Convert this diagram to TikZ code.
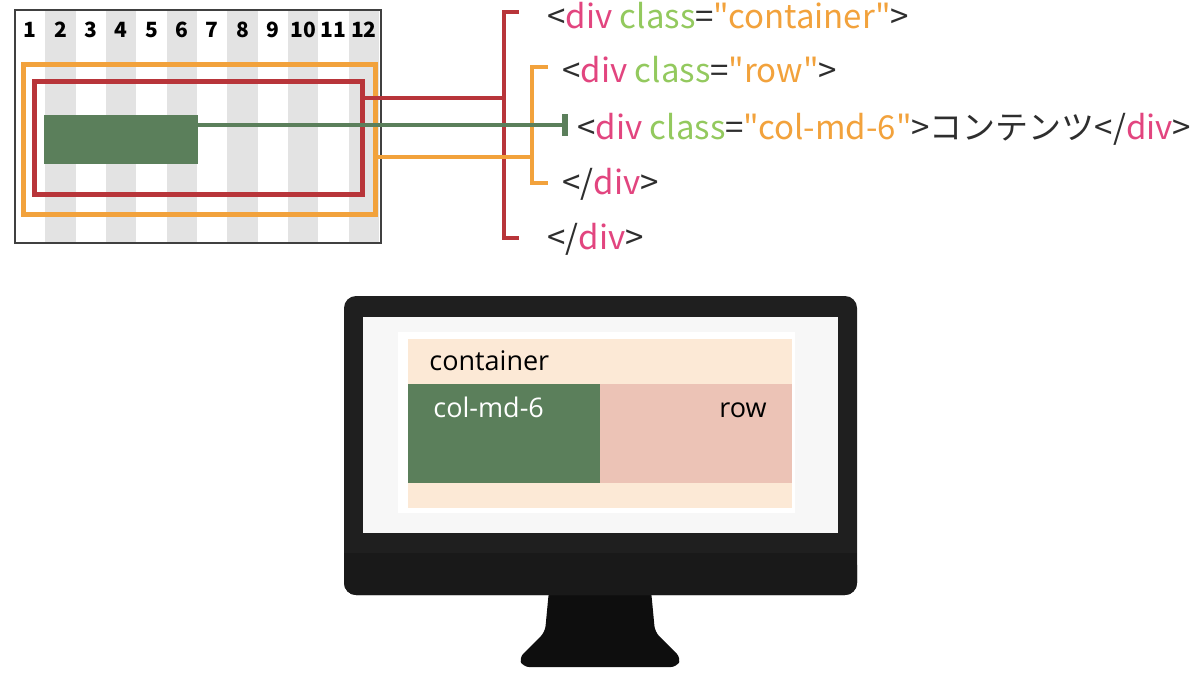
\documentclass[tikz,border=0pt]{standalone}
\usepackage{fontspec}
\usepackage{xcolor}
\usepackage{tikz}
\usetikzlibrary{arrows.meta,positioning,calc}
\newfontfamily\jpfont{Noto Sans CJK JP}
\newfontfamily\shotfont{Open Sans}

\definecolor{redc}{HTML}{B8353A}
\definecolor{orangec}{HTML}{F2A23C}
\definecolor{greenc}{HTML}{5B7F5B}
\definecolor{pinkc}{HTML}{E2457F}
\definecolor{lgreenc}{HTML}{93C95E}
\definecolor{codeblack}{HTML}{2E2E2E}
\definecolor{gridgrey}{HTML}{E3E3E3}
\definecolor{peachc}{HTML}{FCE9D6}
\definecolor{rowpinkc}{HTML}{ECC3B6}
\definecolor{screenc}{HTML}{F7F7F7}
\definecolor{bezelc}{HTML}{1F1F1F}
\definecolor{chinc}{HTML}{191919}
\definecolor{standc}{HTML}{0E0E0E}

\newcommand\tagname[1]{\textcolor{pinkc}{#1}}
\newcommand\attrname[1]{\textcolor{lgreenc}{#1}}
\newcommand\attrval[1]{\textcolor{orangec}{#1}}

\tikzset{
  frame/.style={rectangle, inner sep=0pt},
  code/.style={font=\jpfont\fontsize{16.5}{20}\selectfont, text=codeblack, anchor=base west, inner sep=0pt},
  colnum/.style={font=\jpfont\bfseries\fontsize{10.5}{12}\selectfont, anchor=base, inner sep=0pt},
  shot/.style={font=\shotfont\fontsize{13.5}{16}\selectfont, inner sep=0pt},
  redline/.style={draw=redc, line width=2.2pt},
  orangeline/.style={draw=orangec, line width=2pt},
  greenline/.style={draw=greenc, line width=2pt}
}

\begin{document}
\begin{tikzpicture}[x=0.5pt,y=-0.5pt]
        \useasboundingbox (0,0) rectangle (1200,680);

        % 12 column grid
        \foreach \i in {2,4,...,12} {
            \fill[gridgrey] ({15+30.33*(\i-1)},11) rectangle ({15+30.33*\i},242);
        }
        \foreach \i in {1,...,12} {
            \node[colnum] (num\i) at ({15+30.33*(\i-0.5)},38) {\i};
        }
        \draw[draw=black!75, line width=1pt] (15,10) rectangle (381,243);

        % row, container and column boxes
        \node[frame, draw=orangec, line width=2.5pt, minimum width=176pt, minimum height=75pt] (rowbox) at (199.5,139.5) {};
        \node[frame, draw=redc, line width=2.5pt, minimum width=164pt, minimum height=56.5pt] (containerbox) at (198.5,138) {};
        \node[frame, fill=greenc, minimum width=77pt, minimum height=24.5pt] (colbox) at (121,139.5) {};

        % code lines
        \node[code] (containercode) at (547,28) {<\tagname{div} \attrname{class}=\attrval{"container"}>};
        \node[code] (rowcode) at (562,83) {<\tagname{div} \attrname{class}=\attrval{"row"}>};
        \node[code] (colcode) at (577,139) {<\tagname{div} \attrname{class}=\attrval{"col-md-6"}>コンテンツ</\tagname{div}>};
        \node[code] (rowend) at (562,194) {</\tagname{div}>};
        \node[code] (containerend) at (547,249) {</\tagname{div}>};

        % brackets
        \coordinate (ctop) at (504,12);
        \coordinate (cbot) at (504,238);
        \coordinate (cjoin) at (504,98);
        \coordinate (rtop) at (532,67);
        \coordinate (rbot) at (532,183);
        \coordinate (rjoin) at (532,157);
        \coordinate (gtick) at (568,125);
        \draw[redline] ($(ctop)+(15,0)$) -- (ctop) -- (cbot) -- ++(15,0);
        \draw[orangeline] ($(rtop)+(16,0)$) -- (rtop) -- (rbot) -- ++(16,0);

        % connectors
        \draw[redline] (containerbox.east |- cjoin) -- (cjoin);
        \draw[orangeline] (rowbox.east |- rjoin) -- (rjoin);
        \draw[greenline, -{Bar[width=11pt, line width=3pt]}] (colbox.east |- gtick) -- (gtick);

        % monitor
        \fill[standc, rounded corners=3pt] (549,590) -- (545,632) -- (519,658) -- (523,667) -- (677,667) -- (681,658) -- (655,632) -- (651,590) -- cycle;
        \fill[bezelc, rounded corners=6pt] (344,296) rectangle (857,595);
        \fill[chinc, rounded corners=6pt] (344,553) rectangle (857,595);
        \fill[chinc] (344,553) rectangle (857,570);
        \fill[screenc] (363,317) rectangle (838,533);
        \fill[white] (398,332) rectangle (795,513);
        \fill[peachc] (408,339) rectangle (792,508);
        \node[frame, fill=greenc, minimum width=96pt, minimum height=49.5pt, anchor=north west] (colshot) at (408,384) {};
        \node[frame, fill=rowpinkc, minimum width=96pt, minimum height=49.5pt, anchor=north west] (rowshot) at (600,384) {};
        \node[shot, anchor=base west] (containerlabel) at (429,370) {container};
        \node[shot, anchor=base west, text=white] (collabel) at (433,417) {col-md-6};
        \node[shot, anchor=base east] (rowlabel) at (767,417) {row};
    \end{tikzpicture}
\end{document}
